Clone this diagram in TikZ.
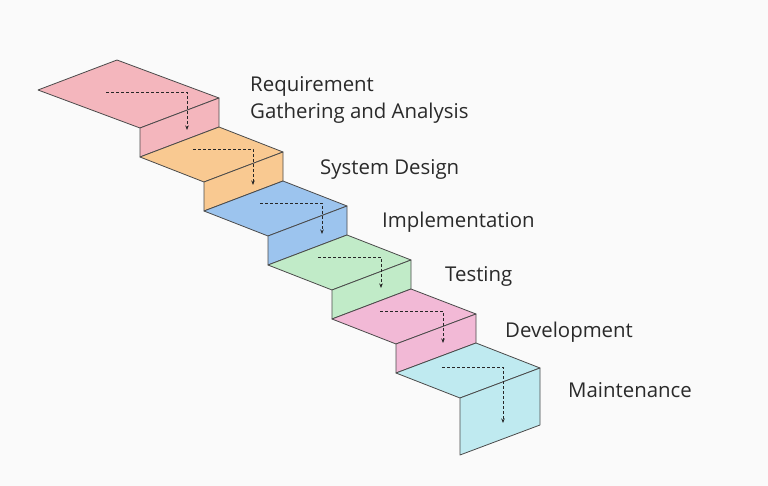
\documentclass[tikz,border=0pt]{standalone}
\usepackage{fontspec}
\setmainfont{Open Sans}
\usetikzlibrary{arrows.meta}
\definecolor{bg}{HTML}{FAFAFA}
\definecolor{edge}{HTML}{4A4A4A}
\definecolor{txt}{HTML}{2A2A2A}
\definecolor{cA}{HTML}{F4B6BD}
\definecolor{cB}{HTML}{F9C991}
\definecolor{cC}{HTML}{9CC4EE}
\definecolor{cD}{HTML}{C1EBC8}
\definecolor{cE}{HTML}{F2B9D6}
\definecolor{cF}{HTML}{BFEAF0}
\begin{document}
\begin{tikzpicture}[x=1pt,y=-1pt,
  face/.style={draw=edge,line width=0.8pt,line join=round},
  flow/.style={dash pattern=on 3pt off 2pt,line width=0.8pt,draw=black!85,-{Stealth[length=4.5pt,width=3.5pt]}},
  lbl/.style={anchor=base west,font=\fontsize{20.4}{27}\selectfont,text=txt,inner sep=0pt,align=left}]
\fill[bg] (0,0) rectangle (768,486);
\useasboundingbox (0,0) rectangle (768,486);

% step 1
\fill[cA,face] (38,90) -- (117,60) -- (219,98) -- (140,128) -- cycle;
\fill[cA,face] (140,128) -- (219,98) -- (219,127) -- (140,157) -- cycle;
% step 2
\fill[cB,face] (140,157) -- (219,127) -- (283,152) -- (204,182) -- cycle;
\fill[cB,face] (204,182) -- (283,152) -- (283,181) -- (204,211) -- cycle;
% step 3
\fill[cC,face] (204,211) -- (283,181) -- (347,206) -- (268,236) -- cycle;
\fill[cC,face] (268,236) -- (347,206) -- (347,235) -- (268,265) -- cycle;
% step 4
\fill[cD,face] (268,265) -- (347,235) -- (411,260) -- (332,290) -- cycle;
\fill[cD,face] (332,290) -- (411,260) -- (411,289) -- (332,319) -- cycle;
% step 5
\fill[cE,face] (332,319) -- (411,289) -- (476,314) -- (396,344) -- cycle;
\fill[cE,face] (396,344) -- (476,314) -- (476,343) -- (396,373) -- cycle;
% step 6
\fill[cF,face] (396,373) -- (476,343) -- (540,368) -- (460,398) -- cycle;
\fill[cF,face] (460,398) -- (540,368) -- (540,425) -- (460,455) -- cycle;

% flow coordinates
\coordinate (s1) at (106,92);  \coordinate (e1) at (187,130);
\coordinate (s2) at (193,149); \coordinate (e2) at (253,185);
\coordinate (s3) at (260,203); \coordinate (e3) at (322,234);
\coordinate (s4) at (318,257); \coordinate (e4) at (381,288);
\coordinate (s5) at (380,311); \coordinate (e5) at (443,343);
\coordinate (s6) at (442,367); \coordinate (e6) at (503,423);
\foreach \i in {1,...,6}{\draw[flow] (s\i) -| (e\i);}

% labels
\node[lbl] (l1) at (250,92) {Requirement};
\node[lbl] (l1b) at (250,119) {Gathering and Analysis};
\node[lbl] (l2) at (320,175) {System Design};
\node[lbl] (l3) at (382,228) {Implementation};
\node[lbl] (l4) at (445,282) {Testing};
\node[lbl] (l5) at (505,337) {Development};
\node[lbl] (l6) at (568,397) {Maintenance};
\end{tikzpicture}
\end{document}
